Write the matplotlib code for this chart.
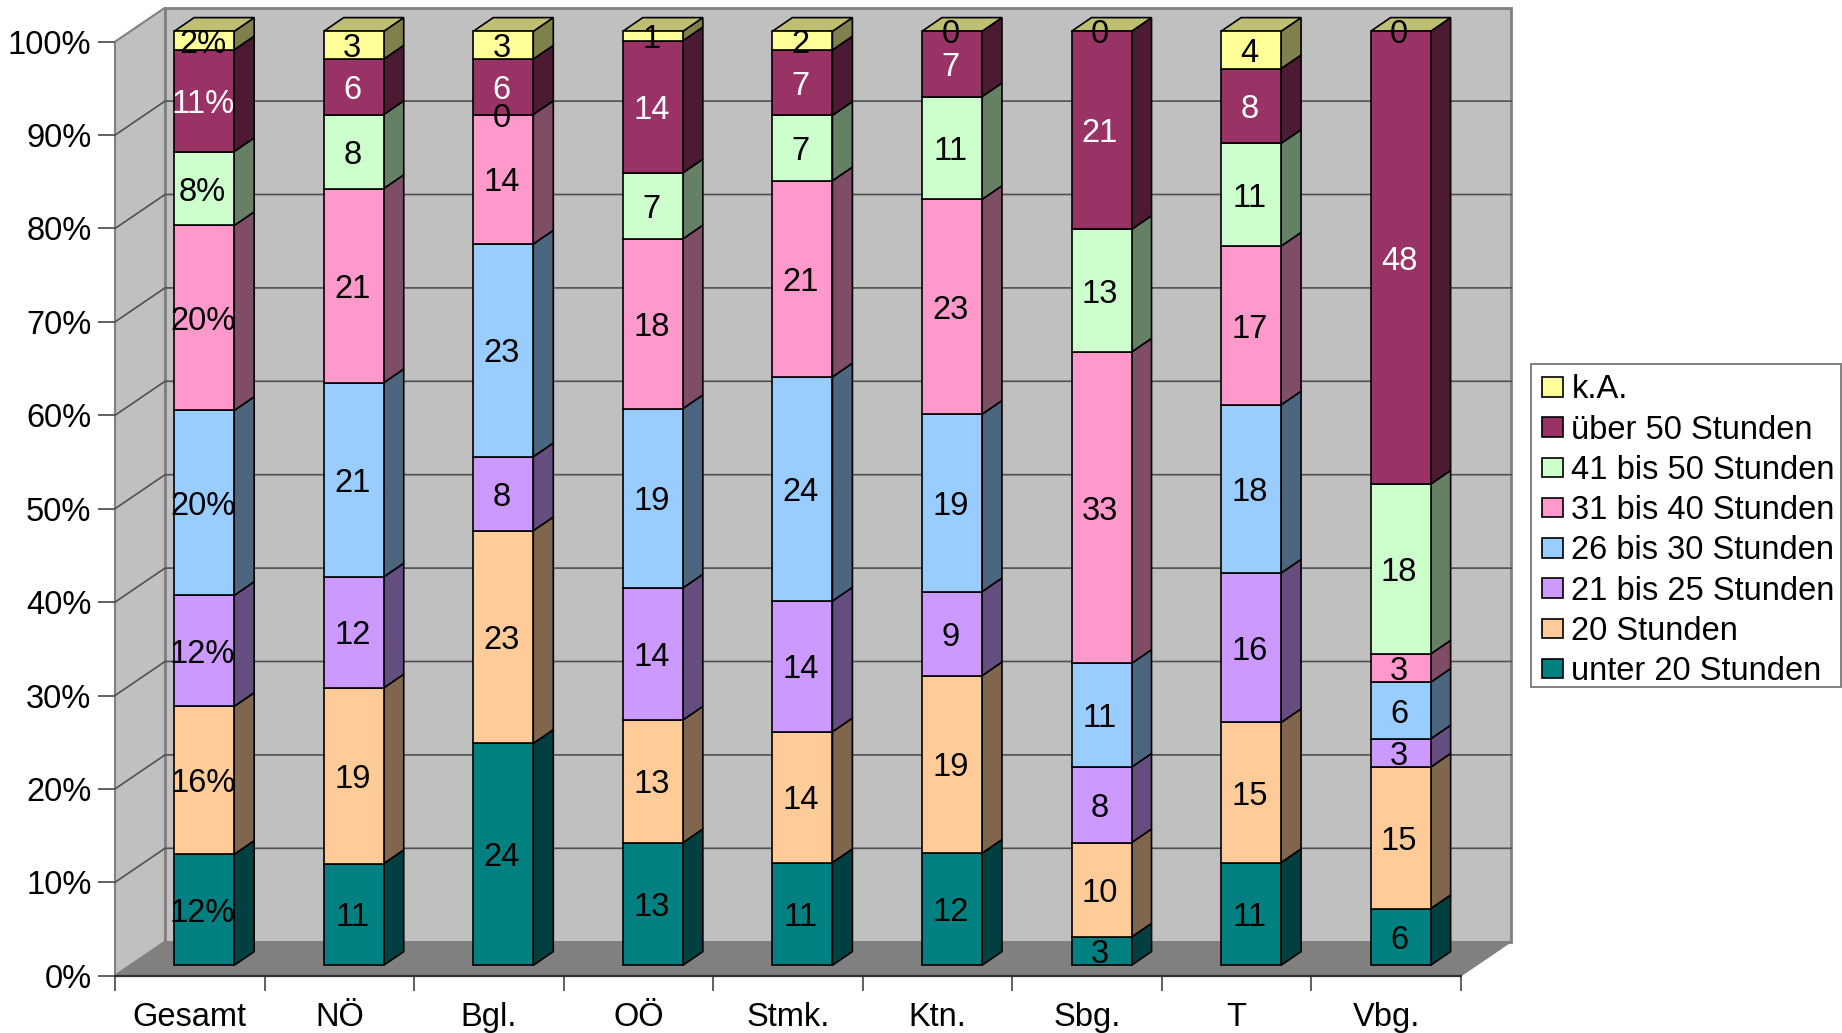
import matplotlib
matplotlib.use("Agg")
import matplotlib.pyplot as plt
from matplotlib.patches import Polygon, Patch, Rectangle
from matplotlib.colors import to_rgb

plt.rcParams['font.family'] = ['Liberation Sans', 'DejaVu Sans']

categories = ["Gesamt", "NÖ", "Bgl.", "OÖ", "Stmk.", "Ktn.", "Sbg.", "T", "Vbg."]
series_names = ["unter 20 Stunden", "20 Stunden", "21 bis 25 Stunden", "26 bis 30 Stunden",
                "31 bis 40 Stunden", "41 bis 50 Stunden", "über 50 Stunden", "k.A."]
colors = ["#008080", "#FFCC99", "#CC99FF", "#99CCFF", "#FF99CC", "#CCFFCC", "#993366", "#FFFF99"]
label_colors = ["black", "black", "black", "black", "black", "black", "white", "black"]

unter20 = [12, 11, 24, 13, 11, 12, 3, 11, 6]
std20 = [16, 19, 23, 13, 14, 19, 10, 15, 15]
std21 = [12, 12, 8, 14, 14, 9, 8, 16, 3]
std26 = [20, 21, 23, 19, 24, 19, 11, 18, 6]
std31 = [20, 21, 14, 18, 21, 23, 33, 17, 3]
std41 = [8, 8, 0, 7, 7, 11, 13, 11, 18]
ueber50 = [11, 6, 6, 14, 7, 7, 21, 8, 48]
ka = [2, 3, 3, 1, 2, 0, 0, 4, 0]
series = [unter20, std20, std21, std26, std31, std41, ueber50, ka]
y_ticks = [0, 10, 20, 30, 40, 50, 60, 70, 80, 90, 100]

W, H = 1842, 1033
L, R, B, T = 115.0, 1461.0, 975.7, 41.7
ux = (R - L) / 9
uy = (B - T) / 100

wall_dx, wall_dy = 50 / ux, 34 / uy
bar_dx, bar_dy = 14.4 / ux, 10.4 / uy
side_dx, side_dy = 20 / ux, 13.7 / uy
bar_w = 60 / ux
label_dx = -1.5 / ux
FS = 23.5

fig = plt.figure(figsize=(W / 100, H / 100), dpi=100, facecolor="white")
ax = fig.add_axes([L / W, 1 - B / H, (R - L) / W, (B - T) / H])
ax.set_xlim(0, 9)
ax.set_ylim(0, 100)
ax.patch.set_visible(False)
for s in ax.spines.values():
    s.set_visible(False)

GRAY = "#808080"
WALL = "#C0C0C0"
# walls and floor
ax.add_patch(Polygon([(wall_dx, wall_dy), (9 + wall_dx, wall_dy), (9 + wall_dx, 100 + wall_dy), (wall_dx, 100 + wall_dy)],
                     closed=True, fc=WALL, ec=GRAY, lw=2, clip_on=False, zorder=1))
ax.add_patch(Polygon([(0, 0), (wall_dx, wall_dy), (wall_dx, 100 + wall_dy), (0, 100)],
                     closed=True, fc=WALL, ec=GRAY, lw=1.5, clip_on=False, zorder=1))
ax.add_patch(Polygon([(0, 0), (9, 0), (9 + wall_dx, wall_dy), (wall_dx, wall_dy)],
                     closed=True, fc=GRAY, ec=GRAY, lw=1, clip_on=False, zorder=1.5))
# gridlines
for v in y_ticks[1:-1]:
    ax.plot([0, wall_dx, 9 + wall_dx], [v, v + wall_dy, v + wall_dy], color="#505050", lw=1.2,
            clip_on=False, zorder=2)
ax.plot([0, 9], [0, 0], color="#303030", lw=1.6, clip_on=False, zorder=2.5)

# stacked 3D bars
def shade(c, f):
    return tuple(x * f for x in to_rgb(c))

for i, cat in enumerate(categories):
    vals = [s[i] for s in series]
    tot = sum(vals)
    x0 = i + 0.5 + bar_dx - bar_w / 2
    x1 = x0 + bar_w
    base = bar_dy
    z = 3 + i
    for j, v in enumerate(vals):
        h = v * 100 / tot
        if h > 0:
            ax.bar(x0, h, width=bar_w, bottom=base, align="edge", color=colors[j], edgecolor="black",
                   lw=1.2, clip_on=False, zorder=z + 0.1)
            ax.add_patch(Polygon([(x1, base), (x1 + side_dx, base + side_dy),
                                  (x1 + side_dx, base + h + side_dy), (x1, base + h)],
                                 closed=True, fc=shade(colors[j], 0.5), ec="black", lw=1.2,
                                 clip_on=False, zorder=z))
        base += h
    top = base
    ax.add_patch(Polygon([(x0, top), (x1, top), (x1 + side_dx, top + side_dy), (x0 + side_dx, top + side_dy)],
                         closed=True, fc=shade(colors[-1], 0.75), ec="black", lw=1.2,
                         clip_on=False, zorder=z))
    base = bar_dy
    for j, v in enumerate(vals):
        h = v * 100 / tot
        txt = f"{v}%" if i == 0 else f"{v}"
        ax.text((x0 + x1) / 2 + label_dx, base + h / 2, txt, ha="center", va="center_baseline", fontsize=FS,
                color=label_colors[j], zorder=50, clip_on=False)
        base += h

# axes ticks and labels
ax.set_yticks(y_ticks)
ax.set_yticklabels([f"{v}%" for v in y_ticks], fontsize=FS, color="black")
ax.set_xticks(range(10))
ax.set_xticklabels([])
ax.tick_params(axis="y", length=12, width=1.4, color="#606060", pad=5)
ax.tick_params(axis="x", length=11, width=1.4, color="#606060")
for i, cat in enumerate(categories):
    ax.annotate(cat, xy=(i + 0.5, 0), xytext=(0, -42), xycoords="data", textcoords=("offset pixels"),
                ha="center", va="center", fontsize=FS, color="black", annotation_clip=False)

# legend
fig.add_artist(Rectangle((1531.3 / W, 1 - 686.7 / H), (1841.0 - 1531.3) / W, (686.7 - 364) / H,
                         transform=fig.transFigure, fc="white", ec=GRAY, lw=1.4, zorder=1))
handles = [Patch(facecolor=c, edgecolor="black", lw=1.2, label=n) for c, n in zip(colors, series_names)]
leg = fig.legend(handles=handles[::-1], loc="upper left", bbox_to_anchor=(1531.3 / W, 1 - 364 / H),
                 borderaxespad=0, fontsize=FS, frameon=False,
                 handlelength=0.644, handleheight=0.537, handletextpad=0.267,
                 labelspacing=0.283, borderpad=0.32)
leg.set_zorder(5)

fig.savefig("out.png", dpi=100, facecolor="white")
